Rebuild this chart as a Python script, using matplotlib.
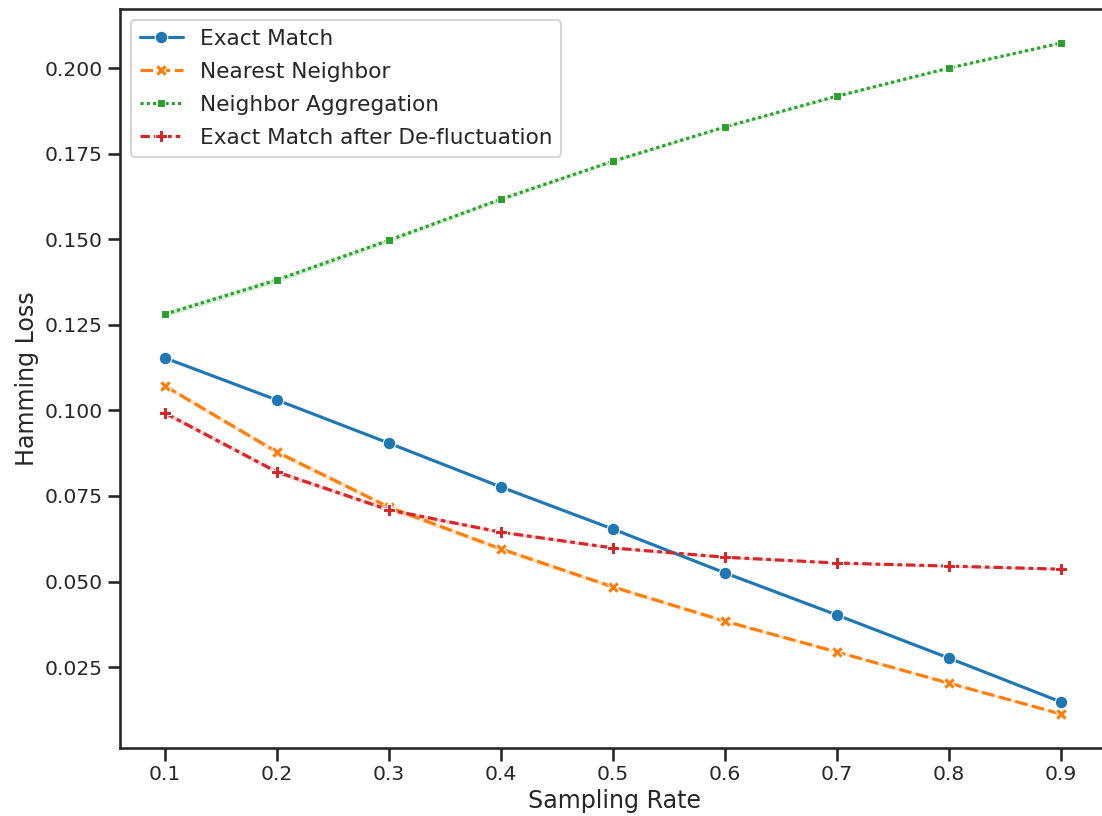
import numpy as np
import pandas as pd
import matplotlib
matplotlib.use("Agg")
import matplotlib.pyplot as plt
import seaborn as sns

# sampling rates and hamming loss for each method
rates = [0.1, 0.2, 0.3, 0.4, 0.5, 0.6, 0.7, 0.8, 0.9]
exact_match = [0.1153, 0.1030, 0.0904, 0.0776, 0.0653, 0.0525, 0.0402, 0.0276, 0.0148]
nearest_neighbor = [0.1071, 0.0878, 0.0717, 0.0595, 0.0484, 0.0384, 0.0294, 0.0203, 0.0113]
neighbor_aggregation = [0.1281, 0.1381, 0.1497, 0.1617, 0.1728, 0.1828, 0.1918, 0.2000, 0.2073]
exact_deflu = [0.0992, 0.0820, 0.0709, 0.0644, 0.0598, 0.0571, 0.0554, 0.0545, 0.0536]

# half width of the confidence band around each line
band_exact = [0.0003, 0.0003, 0.0003, 0.0003, 0.0003, 0.0003, 0.0003, 0.0003, 0.0003]
band_nearest = [0.0007, 0.0008, 0.0008, 0.0007, 0.0006, 0.0006, 0.0005, 0.0005, 0.0004]
band_aggregation = [0.0008, 0.0008, 0.0007, 0.0006, 0.0005, 0.0004, 0.0004, 0.0003, 0.0003]
band_deflu = [0.0007, 0.0007, 0.0006, 0.0005, 0.0004, 0.0004, 0.0003, 0.0003, 0.0003]

methods = ["Exact Match", "Nearest Neighbor", "Neighbor Aggregation",
           "Exact Match after De-fluctuation"]
values = [exact_match, nearest_neighbor, neighbor_aggregation, exact_deflu]
bands = [band_exact, band_nearest, band_aggregation, band_deflu]

df = pd.DataFrame({
    "Sampling Rate": rates * len(methods),
    "Hamming Loss": np.concatenate(values),
    "Method": np.repeat(methods, len(rates)),
})

sns.set_theme(style="ticks", context="talk")
plt.rcParams["font.family"] = ["DejaVu Sans"]

fig = plt.figure(figsize=(11.02, 8.16), dpi=100)
# axes runs slightly past the right edge of the figure
ax = fig.add_axes([0.1089, 0.0839, 0.8966, 0.9045])

palette = sns.color_palette("tab10", 4)
sns.lineplot(data=df, x="Sampling Rate", y="Hamming Loss", hue="Method",
             style="Method", markers=True, dashes=True, palette=palette,
             errorbar=None, ax=ax)

for vals, band, color in zip(values, bands, palette):
    v = np.array(vals)
    b = np.array(band)
    ax.fill_between(rates, v - b, v + b, color=color, alpha=0.2, linewidth=0)

ax.spines["right"].set_visible(False)
ax.set_xticks(rates)
ax.set_xlim(0.0598, 0.9419)
ax.set_ylim(0.0015, 0.2171)
ax.set_yticks([0.025, 0.050, 0.075, 0.100, 0.125, 0.150, 0.175, 0.200])
ax.set_yticklabels(["0.025", "0.050", "0.075", "0.100", "0.125", "0.150", "0.175", "0.200"])
ax.tick_params(labelsize=14.6)
ax.set_xlabel("Sampling Rate", fontsize=17.1)
ax.set_ylabel("Hamming Loss", fontsize=17.1)
ax.legend(loc="upper left", fontsize=15.6, title=None, labelspacing=0.6)

fig.savefig("out.png", dpi=100)
